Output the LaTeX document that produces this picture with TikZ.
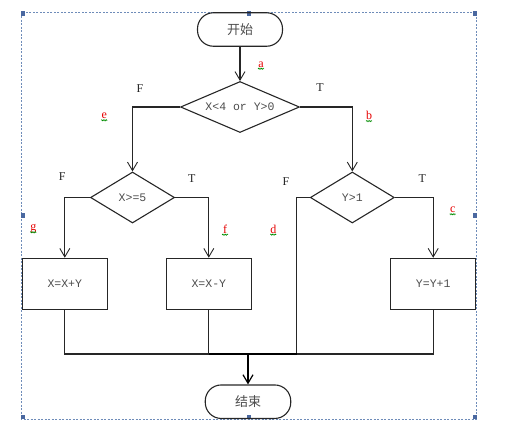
\documentclass[tikz,border=0pt]{standalone}
\usepackage{fontspec}
\setmainfont{Liberation Serif}
\newfontfamily\cjk{Noto Sans CJK SC}
\newfontfamily\monof{Liberation Mono}
\usetikzlibrary{shapes.geometric,arrows.meta,decorations.pathmorphing}
\definecolor{hcol}{RGB}{74,104,160}
\definecolor{fcol}{RGB}{110,140,185}
\begin{document}
\begin{tikzpicture}[x=1pt,y=-1pt,
  line/.style={draw=black!85, line width=1.1pt},
  arr/.style={line, -{Straight Barb[length=8.5pt,width=10pt,line width=0.9pt]}},
  boldarr/.style={draw=black, line width=1.8pt, -{Straight Barb[length=8.5pt,width=10pt,line width=1.2pt]}},
  term/.style={draw=black!85, line width=1.1pt, rectangle, rounded corners=16pt, minimum width=85pt, minimum height=33.5pt, inner sep=0pt, text=black!70, font=\cjk\fontsize{13}{14}\selectfont},
  dec/.style={draw=black!85, line width=1.1pt, diamond, aspect=2.33, inner sep=0pt, minimum height=51pt, text=black!70, font=\monof\fontsize{11.5}{12}\selectfont},
  proc/.style={draw=black!85, line width=1.1pt, rectangle, minimum width=85pt, minimum height=51pt, inner sep=0pt, text=black!70, font=\monof\fontsize{11.5}{12}\selectfont},
  tf/.style={font=\fontsize{12}{13}\selectfont, text=black!85, inner sep=0pt},
  lab/.style={font=\fontsize{12}{13}\selectfont, text=red!90!black, inner sep=0pt},
  squig/.style={draw=green!55!black, line width=0.5pt, decorate, decoration={zigzag, amplitude=0.6pt, segment length=1.6pt}},
  handle/.style={fill=hcol, draw=none}
]
\useasboundingbox (0,0) rectangle (505,426);
% selection frame
\draw[draw=fcol, line width=0.6pt, dash pattern=on 2pt off 1.5pt] (21,12.5) rectangle (476.5,419.5);
\foreach \hx/\hy in {23/13.5, 249/13.5, 474.7/13.5, 23/215.3, 474.7/215.3, 23/417, 249/417, 474.7/417}
  \fill[handle] (\hx-2.2,\hy-2.2) rectangle (\hx+2.2,\hy+2.2);

% nodes
\node[term] (start) at (240,29.5) {开始};
\node[dec, minimum width=119pt] (d1) at (240,107) {X<4 or Y>0};
\node[dec, minimum width=84pt] (d2) at (132.5,197.5) {X>=5};
\node[dec, minimum width=84pt] (d3) at (352.3,197.5) {Y>1};
\node[proc] (b1) at (64.8,283.8) {X=X+Y};
\node[proc] (b2) at (208.8,283.8) {X=X-Y};
\node[proc] (b3) at (433.2,283.8) {Y=Y+1};
\node[term, minimum width=85.5pt] (end) at (248,401.7) {结束};

\coordinate (m) at (248,354);
\coordinate (dl) at (296.7,354);

% connectors
\draw[arr] (start.south) -- (d1.north);
\draw[arr] (d1.west) -| (d2.north);
\draw[arr] (d1.east) -| (d3.north);
\draw[arr] (d2.west) -| (b1.north);
\draw[arr] (d2.east) -| (b2.north);
\draw[arr] (d3.east) -| (b3.north);
\draw[line] (d3.west) -| (dl);
\draw[line] (b1.south) -- (b1.south |- m) -- (b3.south |- m) -- (b3.south);
\draw[line] (b2.south) -- (b2.south |- m);
\draw[draw=black, line width=1.7pt] (b2.south |- m) -- (dl);
\draw[boldarr] (m) -- (end.north);

% T / F labels
\node[tf] (f1) at (140,89) {F};
\node[tf] (t1) at (320,88) {T};
\node[tf] (f2) at (62.3,176.7) {F};
\node[tf] (t2) at (191.7,178.3) {T};
\node[tf] (f3) at (286,181.7) {F};
\node[tf] (t3) at (422.3,178.3) {T};

% red labels with squiggles
\foreach \nm/\lx/\ly/\tx in {la/261/64.5/a, lb/369/115.5/b, lc/452.7/210/c, ld/273.3/229/d, le/104.3/116/e, lf/225/229/f, lg/33.3/229/g}{
  \node[lab] (\nm) at (\lx,\ly) {\tx};
  \draw[squig] ([xshift=-3pt,yshift=-1.5pt]\nm.base) -- ([xshift=3pt,yshift=-1.5pt]\nm.base);
}
\end{tikzpicture}
\end{document}
